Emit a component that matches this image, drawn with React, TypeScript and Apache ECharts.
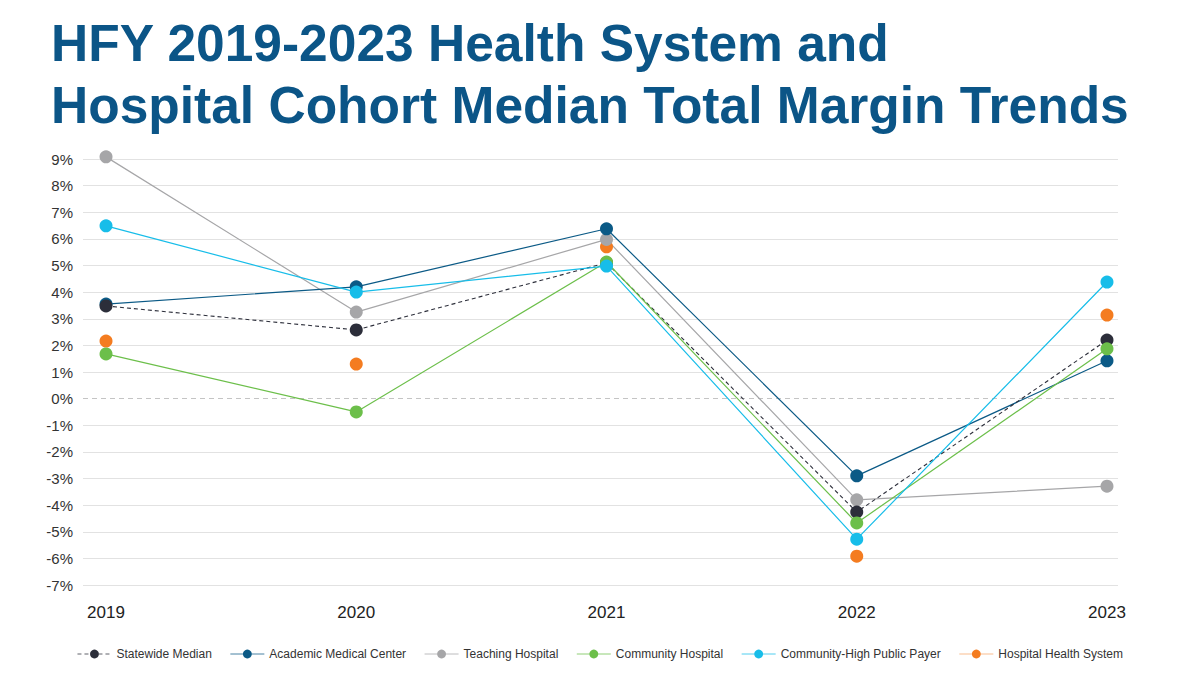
import React, { useEffect, useRef } from "react";
import * as echarts from "echarts";

const years = [2019, 2020, 2021, 2022, 2023];
const yTicks = [-7, 9];

const statewideMedian = [3.48, 2.58, 5.1, -4.26, 2.2];
const academicMedicalCenter = [3.55, 4.2, 6.38, -2.9, 1.42];
const teachingHospital = [9.08, 3.25, 5.98, -3.8, -3.29];
const communityHospital = [1.68, -0.5, 5.13, -4.67, 1.87];
const communityHighPublicPayer = [6.49, 4.0, 4.98, -5.28, 4.38];
const hospitalHealthSystem = [2.16, 1.3, 5.7, -5.92, 3.14];

const legendOrder = [
  "Statewide Median",
  "Academic Medical Center",
  "Teaching Hospital",
  "Community Hospital",
  "Community-High Public Payer",
  "Hospital Health System",
];

const pair = (vals: number[]) => years.map((y, i) => [y, vals[i]]);

export default function App() {
  const ref = useRef<HTMLDivElement>(null);
  useEffect(() => {
    if (!ref.current) return;
    const chart = echarts.init(ref.current, undefined, { renderer: "svg" });
    const lineCount = yTicks[1] - yTicks[0] + 1;
    const solidColors = Array.from({ length: lineCount }, (_, i) =>
      i === -yTicks[0] ? "rgba(0,0,0,0)" : "#e2e2e2"
    );
    const dashColors = Array.from({ length: lineCount }, (_, i) =>
      i === -yTicks[0] ? "#c4c4c4" : "rgba(0,0,0,0)"
    );
    const mk = (name: string, vals: number[], color: string, extra: any = {}) => ({
      name,
      type: "line",
      data: pair(vals),
      symbol: "circle",
      symbolSize: 13,
      showSymbol: true,
      clip: false,
      itemStyle: { color, opacity: 1 },
      lineStyle: { color, width: 1.2, ...(extra.lineStyle || {}) },
      emphasis: { disabled: true },
    });
    chart.setOption({
      animation: false,
      textStyle: { fontFamily: "Liberation Sans, Arial, sans-serif" },
      title: {
        text: "HFY 2019-2023 Health System and\nHospital Cohort Median Total Margin Trends",
        left: 51,
        top: 12,
        padding: 0,
        textStyle: {
          fontSize: 51.5,
          fontWeight: "bold",
          color: "#0b5587",
          lineHeight: 62,
          fontFamily: "Liberation Sans, Arial, sans-serif",
        },
      },
      legend: {
        left: "center",
        top: 643,
        itemWidth: 34,
        itemHeight: 11,
        itemGap: 18,
        lineStyle: { width: 1, opacity: 0.75 },
        textStyle: { fontSize: 12, color: "#333" },
        data: legendOrder.map((n) =>
          n === "Hospital Health System"
            ? { name: n, lineStyle: { opacity: 0.5, width: 1.2 } }
            : { name: n }
        ),
      },
      grid: { left: 83, right: 82, top: 159, bottom: 90, containLabel: false },
      xAxis: {
        type: "value",
        min: years[0] - 0.092,
        max: years[years.length - 1] + 0.044,
        axisLine: { show: false },
        axisTick: { show: false },
        splitLine: { show: false },
        axisLabel: {
          customValues: years,
          fontSize: 17,
          color: "#222",
          margin: 19,
          formatter: (v: number) => String(v),
        },
      },
      yAxis: [
        {
          type: "value",
          min: yTicks[0],
          max: yTicks[1],
          interval: 1,
          position: "left",
          axisLine: { show: false },
          axisTick: { show: false },
          axisLabel: {
            fontSize: 15,
            color: "#333",
            margin: 10,
            formatter: (v: number) => `${v}%`,
          },
          splitLine: { show: true, lineStyle: { color: solidColors, width: 1 } },
        },
        {
          type: "value",
          min: yTicks[0],
          max: yTicks[1],
          interval: 1,
          position: "right",
          axisLine: { show: false },
          axisTick: { show: false },
          axisLabel: { show: false },
          splitLine: {
            show: true,
            lineStyle: { color: dashColors, width: 1, type: [5, 4] },
          },
        },
      ],
      series: [
        {
          ...mk("Hospital Health System", hospitalHealthSystem, "#f47c20"),
          lineStyle: { color: "#f47c20", width: 1.5, opacity: 0 },
        },
        mk("Teaching Hospital", teachingHospital, "#a6a6a8"),
        mk("Academic Medical Center", academicMedicalCenter, "#0b5a86"),
        mk("Statewide Median", statewideMedian, "#2c2e3a", {
          lineStyle: { type: [4, 3], width: 1.1 },
        }),
        mk("Community Hospital", communityHospital, "#6cbf4a"),
        mk("Community-High Public Payer", communityHighPublicPayer, "#17bde9"),
      ],
    });
    return () => chart.dispose();
  }, []);
  return (
    <div
      ref={ref}
      style={{ position: "absolute", left: 0, top: 0, width: 1200, height: 675, background: "#fff" }}
    />
  );
}
